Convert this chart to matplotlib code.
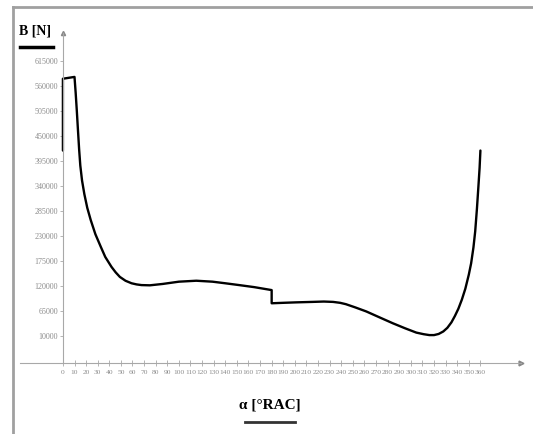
import matplotlib
matplotlib.use("Agg")
import matplotlib.pyplot as plt
from matplotlib.lines import Line2D

# Data
angle_deg = [0, 0, 10, 11, 12, 13, 14, 15, 16.5, 18.5, 21, 24, 28, 32.7, 36.5, 41.9,
             45.5, 49.1, 54, 59.2, 63.5, 67.8, 75, 86, 100, 115, 129, 140, 152, 165,
             180, 180, 190, 201, 215, 225, 233, 239, 244, 252, 261.6, 273, 284.5, 295,
             304.7, 311, 316, 320, 324, 328, 331.5, 335, 338, 341, 344, 347, 350,
             352, 354, 355.5, 357, 358.3, 359.3, 360]
force_N = [418000, 576000, 580000, 545000, 505000, 462000, 420000, 385000, 352000,
           322000, 292000, 265000, 234000, 206000, 184000, 162000, 150000, 140000,
           131500, 126000, 123500, 122000, 121500, 124500, 129500, 131600, 129500,
           126000, 122000, 117500, 111000, 82000, 83000, 84000, 85000, 85800, 85000,
           83000, 80000, 73000, 64000, 51000, 38000, 27000, 17500, 14000, 12000,
           12000, 14500, 20000, 28000, 40000, 54000, 70000, 90000, 114000, 145000,
           170000, 205000, 240000, 290000, 340000, 380000, 418000]
x_ticks = list(range(0, 361, 10))
y_ticks = list(range(10000, 615001, 55000))
y_label = "B [N]"
x_label = "α [°RAC]"

W, H = 533, 434
fig = plt.figure(figsize=(W / 100, H / 100), dpi=100)

# axes placement in pixels
ax_l, ax_r, ax_top, ax_bot = 20, 521, 33, 363
ax = fig.add_axes([ax_l / W, (H - ax_bot) / H, (ax_r - ax_l) / W, (ax_bot - ax_top) / H])
ax.set_xlim(-37, 395)
ax.set_ylim(-49400, 676600)

gray = "#a8a8a8"
lab_gray = "#8c8c8c"
for s in ["top", "right"]:
    ax.spines[s].set_visible(False)
ax.spines["left"].set_position(("data", 0))
ax.spines["left"].set_color(gray)
ax.spines["bottom"].set_color(gray)
ax.spines["left"].set_linewidth(0.8)
ax.spines["bottom"].set_linewidth(0.8)

ax.plot(angle_deg, force_N, color="black", lw=1.7, solid_joinstyle="round",
        solid_capstyle="round")

ax.set_xticks(x_ticks)
ax.set_xticklabels([str(t) for t in x_ticks])
ax.set_yticks(y_ticks)
ax.set_yticklabels([str(t) for t in y_ticks])
ax.tick_params(axis="x", direction="inout", length=4, width=0.6, color=gray,
               labelsize=5.4, labelcolor=lab_gray, pad=3)
ax.tick_params(axis="y", direction="out", length=2.5, width=0.6, color=gray,
               labelsize=5.8, labelcolor=lab_gray, pad=1)
for lab in ax.get_xticklabels() + ax.get_yticklabels():
    lab.set_family("Liberation Serif")

# axis arrow heads
ax.plot([1], [0], marker=">", ms=3.5, color="#888888", transform=ax.transAxes, clip_on=False)
ax.plot([0], [1], marker="^", ms=3, color="#888888",
        transform=ax.get_xaxis_transform(), clip_on=False)

# axis titles with underline
fig.text(35 / W, 1 - 31 / H, y_label, ha="center", va="center", fontsize=10,
         fontweight="bold", family="Liberation Serif")
fig.add_artist(Line2D([20 / W, 53 / W], [1 - 46.5 / H, 1 - 46.5 / H], color="black", lw=2.5))
fig.text(270 / W, 1 - 405 / H, x_label, ha="center", va="center", fontsize=11,
         fontweight="bold", family="Liberation Serif")
fig.add_artist(Line2D([245 / W, 295 / W], [1 - 421.5 / H, 1 - 421.5 / H], color="#333333", lw=2))

# gray frame (left and top)
fig.add_artist(Line2D([13 / W, 13 / W], [0, 1 - 7 / H], color="#a0a0a0", lw=2))
fig.add_artist(Line2D([13 / W, 1], [1 - 7 / H, 1 - 7 / H], color="#a0a0a0", lw=2))

fig.savefig("out.png", dpi=100)
